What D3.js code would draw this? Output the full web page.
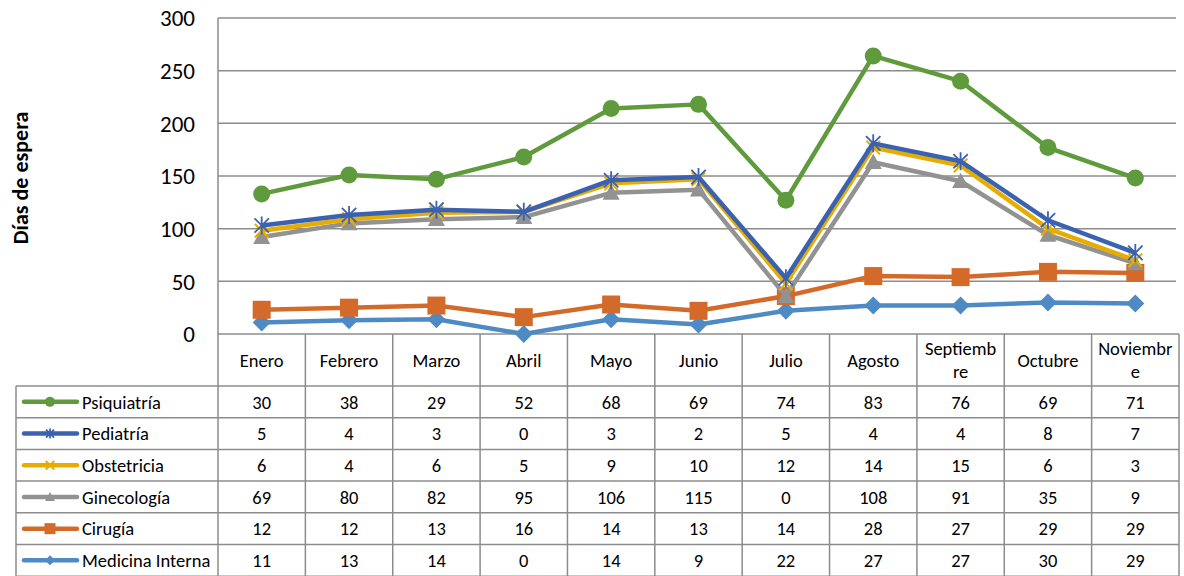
<!DOCTYPE html>
<html><head><meta charset="utf-8">
<script src="https://cdn.jsdelivr.net/npm/d3@7"></script>
<style>body{margin:0;background:#fff} svg{display:block}</style></head>
<body>
<svg id="c" width="1184" height="576"></svg>
<script>
const categories = ["Enero","Febrero","Marzo","Abril","Mayo","Junio","Julio","Agosto","Septiembre","Octubre","Noviembre"];
const catLabels = [["Enero"],["Febrero"],["Marzo"],["Abril"],["Mayo"],["Junio"],["Julio"],["Agosto"],["Septiemb","re"],["Octubre"],["Noviembr","e"]];
const psiquiatria = [30,38,29,52,68,69,74,83,76,69,71];
const pediatria = [5,4,3,0,3,2,5,4,4,8,7];
const obstetricia = [6,4,6,5,9,10,12,14,15,6,3];
const ginecologia = [69,80,82,95,106,115,0,108,91,35,9];
const cirugia = [12,12,13,16,14,13,14,28,27,29,29];
const medicinaInterna = [11,13,14,0,14,9,22,27,27,30,29];
const yTicks = [0,50,100,150,200,250,300];
const seriesNames = ["Psiquiatría","Pediatría","Obstetricia","Ginecología","Cirugía","Medicina Interna"];
const seriesValues = [psiquiatria,pediatria,obstetricia,ginecologia,cirugia,medicinaInterna];
const seriesColors = ["#5f9b3d","#3b62b1","#e6ad00","#929292","#d46a2a","#4e8bc4"];
const seriesMarkers = ["circle","star","x","triangle","square","diamond"];

const FONT = "Carlito, Calibri, Lato, 'Open Sans', sans-serif";
const svg = d3.select("#c");
const L = 218, R = 1179, T = 18, B = 334;
const rowTop = 386, rowH = 31.7, legL = 16;

const x = d3.scaleBand().domain(categories).range([L, R]);
const y = d3.scaleLinear().domain([0,300]).range([B, T]);

const rows = categories.map((c,i)=>{const o={cat:c}; seriesNames.forEach((n,k)=>o[n]=seriesValues[k][i]); return o;});
const stackKeys = seriesNames.slice().reverse();
const stacked = d3.stack().keys(stackKeys)(rows);

const grid = "#8c8c8c";
svg.append("g").selectAll("line").data(yTicks.filter(d=>d>0)).join("line")
  .attr("x1",L).attr("x2",R-3).attr("y1",d=>y(d)).attr("y2",d=>y(d))
  .attr("stroke",grid).attr("stroke-width",1.5);

svg.append("g").selectAll("text").data(yTicks).join("text")
  .attr("x",195).attr("y",d=>y(d)).attr("dy","0.36em").attr("text-anchor","end")
  .attr("font-family",FONT).attr("font-size",23).attr("fill","#000").text(d=>d);

svg.append("text").attr("transform",`translate(28,${(T+B)/2+2}) rotate(-90)`)
  .attr("text-anchor","middle").attr("font-family",FONT).attr("font-size",22).attr("font-weight","bold")
  .text("Días de espera");

const tb = svg.append("g").attr("stroke",grid).attr("stroke-width",1.5);
const nRows = seriesNames.length;
const bottom = rowTop + rowH*nRows;
tb.append("line").attr("x1",L).attr("x2",R).attr("y1",B).attr("y2",B);
for(let r=0;r<=nRows;r++){
  tb.append("line").attr("x1",legL).attr("x2",R).attr("y1",rowTop+rowH*r).attr("y2",rowTop+rowH*r);
}
tb.append("line").attr("x1",L).attr("x2",L).attr("y1",T).attr("y2",bottom);
tb.append("line").attr("x1",legL).attr("x2",legL).attr("y1",rowTop).attr("y2",bottom);
categories.forEach((c,i)=>{
  const xx = x(c)+x.bandwidth();
  tb.append("line").attr("x1",xx).attr("x2",xx).attr("y1",B).attr("y2",bottom);
});

const FS = 18.5;
const cg = svg.append("g").attr("font-family",FONT).attr("font-size",FS).attr("text-anchor","middle");
categories.forEach((c,i)=>{
  const lines = catLabels[i];
  const cy = (B+rowTop)/2;
  lines.forEach((t,j)=>{
    cg.append("text").attr("x",x(c)+x.bandwidth()/2).attr("y",cy + (j-(lines.length-1)/2)*22.5).attr("dy","0.36em").text(t);
  });
});

function marker(g, type, cx, cy, s, color){
  const h = s/2;
  if(type==="circle") g.append("circle").attr("cx",cx).attr("cy",cy).attr("r",h).attr("fill",color);
  else if(type==="square") g.append("rect").attr("x",cx-h).attr("y",cy-h).attr("width",s).attr("height",s).attr("fill",color);
  else if(type==="diamond") g.append("path").attr("d",`M${cx},${cy-h}L${cx+h},${cy}L${cx},${cy+h}L${cx-h},${cy}Z`).attr("fill",color);
  else if(type==="triangle") g.append("path").attr("d",`M${cx},${cy-h}L${cx+h},${cy+h*0.8}L${cx-h},${cy+h*0.8}Z`).attr("fill",color);
  else if(type==="x"){
    const k=h*0.85;
    g.append("path").attr("d",`M${cx-k},${cy-k}L${cx+k},${cy+k}M${cx-k},${cy+k}L${cx+k},${cy-k}`).attr("stroke",color).attr("stroke-width",2).attr("fill","none");
  } else if(type==="star"){
    const k=h*0.8;
    g.append("path").attr("d",`M${cx-k},${cy-k}L${cx+k},${cy+k}M${cx-k},${cy+k}L${cx+k},${cy-k}M${cx},${cy-h}L${cx},${cy+h}`).attr("stroke",color).attr("stroke-width",1.8).attr("fill","none");
  }
}

const line = d3.line().x(d=>x(d.data.cat)+x.bandwidth()/2).y(d=>y(d[1]));
stacked.forEach(layer=>{
  const k = seriesNames.indexOf(layer.key);
  const g = svg.append("g");
  g.append("path").datum(layer).attr("d",line).attr("fill","none").attr("stroke",seriesColors[k])
    .attr("stroke-width",4.5).attr("stroke-linejoin","round");
  const sizes = {circle:17,square:18,diamond:18,triangle:17,x:16,star:18};
  layer.forEach(d=>marker(g, seriesMarkers[k], x(d.data.cat)+x.bandwidth()/2, y(d[1]), sizes[seriesMarkers[k]], seriesColors[k]));
});

seriesNames.forEach((n,k)=>{
  const cy = rowTop + rowH*k + rowH/2;
  const g = svg.append("g");
  g.append("line").attr("x1",24).attr("x2",77).attr("y1",cy).attr("y2",cy).attr("stroke",seriesColors[k]).attr("stroke-width",4.5).attr("stroke-linecap","round");
  const ls = {circle:10,square:11,diamond:10,triangle:10,x:10,star:10};
  marker(g, seriesMarkers[k], 50, cy, ls[seriesMarkers[k]], seriesColors[k]);
  g.append("text").attr("x",82).attr("y",cy).attr("dy","0.36em").attr("font-family",FONT).attr("font-size",FS).text(n);
  seriesValues[k].forEach((v,i)=>{
    g.append("text").attr("x",x(categories[i])+x.bandwidth()/2).attr("y",cy).attr("dy","0.36em")
      .attr("text-anchor","middle").attr("font-family",FONT).attr("font-size",FS).text(v);
  });
});
</script>
</body></html>
